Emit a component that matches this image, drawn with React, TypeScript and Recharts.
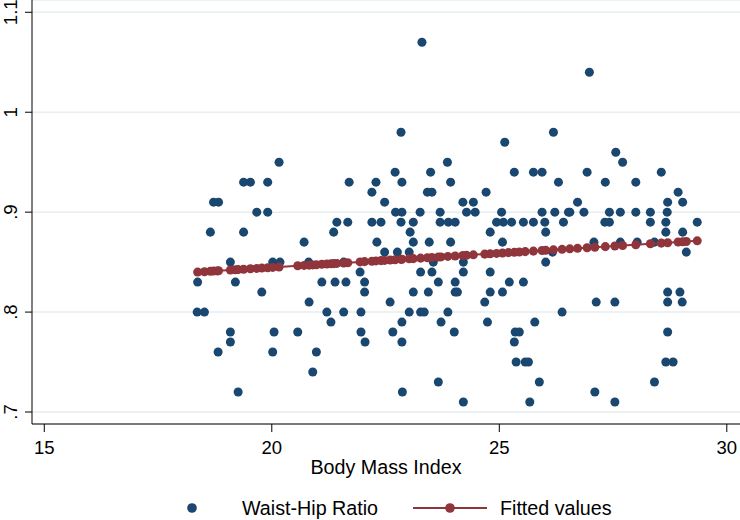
import React from 'react';
import { ScatterChart, Scatter, XAxis, YAxis, ZAxis, CartesianGrid, Legend, Label } from 'recharts';

// Waist-Hip Ratio against BMI
const bmi = [
  20.16, 19.38, 19.53, 19.91, 21.70, 22.29, 22.20, 18.72, 18.83, 19.67,
  19.91, 21.43, 21.67, 18.65, 19.38, 21.36, 22.31, 20.71, 19.09, 20.02,
  20.18, 20.81, 21.58, 21.94, 18.37, 19.20, 21.10, 21.39, 21.63, 22.04,
  19.78, 20.82, 22.04, 18.36, 18.52, 21.21, 21.58, 21.96, 21.30, 19.09,
  20.05, 20.57, 21.96, 19.09, 22.05, 18.82, 20.02, 20.98, 20.90, 19.26,
  23.30, 22.84, 25.12, 26.19, 23.86, 22.71, 23.49, 25.33, 25.75, 25.94,
  22.86, 23.93, 26.30, 23.42, 23.52, 24.71, 22.48, 24.20, 24.43, 24.28,
  24.47, 22.72, 22.86, 23.26, 23.70, 25.05, 25.94, 26.22, 26.52, 22.20,
  22.40, 22.84, 23.11, 23.70, 23.88, 24.03, 24.94, 25.09, 25.27, 25.53,
  25.75, 26.00, 26.41, 23.04, 24.80, 26.02, 23.11, 23.46, 23.93, 25.07,
  22.48, 22.76, 23.02, 26.17, 23.55, 24.21, 26.02, 23.27, 23.52, 24.21,
  24.80, 23.66, 24.03, 25.22, 25.53, 23.11, 23.44, 24.03, 24.08, 24.80,
  25.07, 22.60, 24.68, 23.02, 23.27, 23.35, 23.87, 26.38, 22.86, 23.72,
  24.74, 25.78, 22.66, 24.01, 25.35, 25.44, 22.86, 25.33, 25.37, 25.57,
  25.64, 23.66, 25.88, 22.87, 24.21, 25.67,
  26.98, 27.56, 27.71, 26.93, 28.56, 27.33, 28.00, 28.93, 26.72, 28.70,
  29.03, 26.55, 26.86, 27.42, 27.66, 28.00, 28.32, 28.69, 27.32, 27.42,
  28.32, 28.66, 29.35, 28.66, 29.03, 27.08, 27.66, 28.03, 28.41, 29.11,
  27.13, 27.54, 28.70, 28.97, 28.70, 29.02, 28.70, 28.66, 28.82, 28.41,
  27.10, 27.54,
];

const whr = [
  0.95, 0.93, 0.93, 0.93, 0.93, 0.93, 0.92, 0.91, 0.91, 0.90,
  0.90, 0.89, 0.89, 0.88, 0.88, 0.88, 0.87, 0.87, 0.85, 0.85,
  0.85, 0.85, 0.85, 0.84, 0.83, 0.83, 0.83, 0.83, 0.83, 0.83,
  0.82, 0.81, 0.82, 0.80, 0.80, 0.80, 0.80, 0.80, 0.79, 0.78,
  0.78, 0.78, 0.78, 0.77, 0.77, 0.76, 0.76, 0.76, 0.74, 0.72,
  1.07, 0.98, 0.97, 0.98, 0.95, 0.94, 0.94, 0.94, 0.94, 0.94,
  0.93, 0.93, 0.93, 0.92, 0.92, 0.92, 0.91, 0.91, 0.91, 0.90,
  0.90, 0.90, 0.90, 0.90, 0.90, 0.90, 0.90, 0.90, 0.90, 0.89,
  0.89, 0.89, 0.89, 0.89, 0.89, 0.89, 0.89, 0.89, 0.89, 0.89,
  0.89, 0.89, 0.89, 0.88, 0.88, 0.88, 0.87, 0.87, 0.87, 0.87,
  0.86, 0.86, 0.86, 0.86, 0.85, 0.85, 0.85, 0.84, 0.84, 0.84,
  0.84, 0.83, 0.83, 0.83, 0.83, 0.82, 0.82, 0.82, 0.82, 0.82,
  0.82, 0.81, 0.81, 0.80, 0.80, 0.80, 0.80, 0.80, 0.79, 0.79,
  0.79, 0.79, 0.78, 0.78, 0.78, 0.78, 0.77, 0.77, 0.75, 0.75,
  0.75, 0.73, 0.73, 0.72, 0.71, 0.71,
  1.04, 0.96, 0.95, 0.94, 0.94, 0.93, 0.93, 0.92, 0.91, 0.91,
  0.91, 0.90, 0.90, 0.90, 0.90, 0.90, 0.90, 0.90, 0.89, 0.89,
  0.89, 0.89, 0.89, 0.88, 0.88, 0.87, 0.87, 0.87, 0.87, 0.86,
  0.81, 0.81, 0.82, 0.82, 0.81, 0.81, 0.78, 0.75, 0.75, 0.73,
  0.72, 0.71,
];

// fitted values (linear fit)
const fitBmi = [
  18.37, 18.52, 18.65, 18.72, 18.80, 18.83, 19.09, 19.20, 19.26, 19.38,
  19.53, 19.67, 19.78, 19.91, 20.02, 20.16, 20.57, 20.71, 20.82, 20.90,
  20.98, 21.10, 21.21, 21.30, 21.36, 21.43, 21.58, 21.67, 21.94, 22.04,
  22.20, 22.29, 22.40, 22.48, 22.60, 22.71, 22.84, 22.86, 23.02, 23.11,
  23.27, 23.42, 23.52, 23.66, 23.72, 23.87, 24.03, 24.20, 24.28, 24.43,
  24.68, 24.80, 24.94, 25.07, 25.20, 25.33, 25.44, 25.57, 25.75, 25.94,
  26.02, 26.19, 26.38, 26.55, 26.72, 26.93, 27.10, 27.33, 27.54, 27.71,
  28.00, 28.32, 28.56, 28.70, 28.93, 29.03, 29.11, 29.35,
];

const fitWhr = [
  0.8400, 0.8404, 0.8408, 0.8410, 0.8412, 0.8413, 0.8421, 0.8424, 0.8425, 0.8429,
  0.8433, 0.8437, 0.8440, 0.8444, 0.8447, 0.8451, 0.8463, 0.8467, 0.8470, 0.8472,
  0.8474, 0.8478, 0.8481, 0.8484, 0.8485, 0.8487, 0.8491, 0.8494, 0.8502, 0.8505,
  0.8509, 0.8512, 0.8515, 0.8517, 0.8521, 0.8524, 0.8527, 0.8528, 0.8533, 0.8535,
  0.8540, 0.8544, 0.8547, 0.8551, 0.8552, 0.8557, 0.8561, 0.8566, 0.8568, 0.8573,
  0.8580, 0.8583, 0.8587, 0.8591, 0.8595, 0.8598, 0.8601, 0.8605, 0.8610, 0.8616,
  0.8618, 0.8623, 0.8628, 0.8633, 0.8638, 0.8644, 0.8649, 0.8655, 0.8661, 0.8666,
  0.8674, 0.8684, 0.8690, 0.8694, 0.8701, 0.8704, 0.8706, 0.8713,
];

const xTicks = [15, 20, 25, 30];
const yTicks = [0.7, 0.8, 0.9, 1, 1.1];
const yTickLabels = ['.7', '.8', '.9', '1', '1.1'];

const points = bmi.map((x, i) => ({ x, y: whr[i] }));
const fitted = fitBmi.map((x, i) => ({ x, y: fitWhr[i] }));

const FONT = '"Liberation Sans", Arial, Helvetica, sans-serif';
const BLUE = '#1a476f';
const RED = '#90353b';
const GRID = '#e6eef0';

const XTick = (p: any) => (
  <text x={p.x} y={p.y + 21.5} textAnchor="middle" fontSize={18.5} fontFamily={FONT} fill="#000">
    {p.payload.value}
  </text>
);

const YTick = (p: any) => {
  const label = yTickLabels[yTicks.indexOf(p.payload.value)];
  const bx = p.x - 8;
  return (
    <text
      x={bx}
      y={p.y}
      transform={`rotate(-90, ${bx}, ${p.y})`}
      textAnchor="middle"
      fontSize={18.5}
      fontFamily={FONT}
      fill="#000"
    >
      {label}
    </text>
  );
};

const AxisTitle = (p: any) => {
  const vb = p.viewBox;
  return (
    <text x={vb.x + vb.width / 2} y={vb.y + 50} textAnchor="middle" fontSize={19.7} fontFamily={FONT} fill="#000">
      Body Mass Index
    </text>
  );
};

const LegendBox = () => (
  <svg width={740} height={30} style={{ display: 'block' }}>
    <circle cx={192} cy={15} r={4.8} fill={BLUE} />
    <text x={242} y={22} fontSize={19.7} fontFamily={FONT} fill="#000">Waist-Hip Ratio</text>
    <line x1={413} x2={487} y1={15} y2={15} stroke={RED} strokeWidth={2} />
    <circle cx={450} cy={15} r={4.8} fill={RED} />
    <text x={500} y={22} fontSize={19.7} fontFamily={FONT} fill="#000">Fitted values</text>
  </svg>
);

export default function App() {
  return (
    <div style={{ position: 'absolute', left: 0, top: 0, width: 740, height: 520, background: '#fff' }}>
      <ScatterChart width={740} height={520} margin={{ top: 0, right: 0, bottom: 0, left: 0 }}>
        <CartesianGrid horizontal vertical={false} stroke={GRID} strokeWidth={1.5} />
        <XAxis
          type="number"
          dataKey="x"
          domain={[14.73, 30.29]}
          ticks={xTicks}
          allowDataOverflow
          height={66}
          tickSize={8}
          tickMargin={0}
          stroke="#000"
          tick={<XTick />}
        >
          <Label content={<AxisTitle />} />
        </XAxis>
        <YAxis
          type="number"
          dataKey="y"
          domain={[0.688, 1.1123]}
          ticks={yTicks}
          allowDataOverflow
          width={32}
          tickSize={7}
          tickMargin={0}
          stroke="#000"
          tick={<YTick />}
        />
        <ZAxis range={[74, 74]} />
        <Legend
          verticalAlign="bottom"
          height={30}
          content={<LegendBox />}
          wrapperStyle={{ top: 493, left: 0, width: 740 }}
        />
        <Scatter name="Waist-Hip Ratio" data={points} fill={BLUE} isAnimationActive={false} />
        <Scatter
          name="Fitted values"
          data={fitted}
          fill={RED}
          line={{ stroke: RED, strokeWidth: 2 }}
          lineType="joint"
          isAnimationActive={false}
        />
      </ScatterChart>
    </div>
  );
}
